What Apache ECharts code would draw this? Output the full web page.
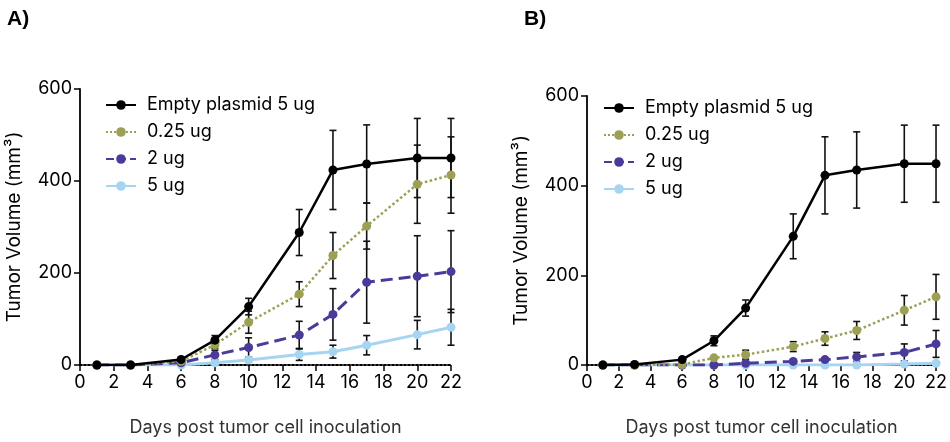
<!DOCTYPE html>
<html>
<head>
<meta charset="utf-8">
<script src="https://cdn.jsdelivr.net/npm/echarts@6/dist/echarts.min.js"></script>
<style>
html,body{margin:0;padding:0;background:#fff;}
#c{width:950px;height:442px;}
</style>
</head>
<body>
<div id="c"></div>
<script>
const days = [1, 3, 6, 8, 10, 13, 15, 17, 20, 22];
const seriesNames = ['Empty plasmid 5 ug', '0.25 ug', '2 ug', '5 ug'];
const xTicks = [0, 2, 4, 6, 8, 10, 12, 14, 16, 18, 20, 22];
const yTicks = [0, 200, 400, 600];

// Panel A
const emptyA = [0, 0, 12, 54, 127, 288, 424, 437, 450, 450];
const emptyAErr = [0, 0, 3, 10, 18, 50, 86, 85, 86, 86];
const lowA = [0, 0, 8, 44, 93, 154, 238, 302, 393, 413];
const lowAErr = [0, 0, 2, 8, 24, 27, 50, 50, 85, 83];
const midA = [0, 0, 5, 22, 38, 65, 110, 180, 193, 203];
const midAErr = [0, 0, 2, 10, 21, 30, 56, 89, 88, 89];
const highA = [0, 0, 0, 5, 11, 23, 29, 43, 66, 82];
const highAErr = [0, 0, 1, 3, 5, 13, 14, 21, 31, 39];

// Panel B
const emptyB = [0, 1, 12, 54, 127, 287, 423, 435, 449, 449];
const emptyBErr = [0, 0, 3, 11, 18, 50, 86, 85, 86, 86];
const lowB = [0, 0, 1, 16, 23, 41, 59, 77, 122, 152];
const lowBErr = [0, 0, 0, 2, 10, 11, 15, 20, 33, 50];
const midB = [0, 0, 0, 0, 4, 8, 12, 18, 28, 47];
const midBErr = [0, 0, 0, 0, 2, 3, 4, 10, 19, 30];
const highB = [0, 0, 0, 0, 0, 0, 0, 0, 2, 4];
const highBErr = [0, 0, 0, 0, 0, 0, 0, 0, 1, 2];

const FONT = 'Inter';
const colors = ['#000000', '#9d9f55', '#4a3a9a', '#a6d5f2'];
const lineTypes = ['solid', 'dotted', 'dashed', 'solid'];
const lineWidths = [2.5, 2.5, 3, 3];

const chart = echarts.init(document.getElementById('c'));

function pairs(vals) { return days.map((d, i) => [d, vals[i]]); }
function errData(vals, errs) {
  return days.map((d, i) => [d, vals[i] - errs[i], vals[i] + errs[i], errs[i]]);
}

function errSeries(idx, name, vals, errs) {
  return {
    type: 'custom', name: name + ' SEM', xAxisIndex: idx, yAxisIndex: idx,
    data: errData(vals, errs), silent: true, z: 1,
    encode: { x: 0, y: [1, 2] },
    renderItem: function (params, api) {
      if (api.value(3) < 1.5) return null;
      const lo = api.coord([api.value(0), api.value(1)]);
      const hi = api.coord([api.value(0), api.value(2)]);
      const w = 3.5;
      const st = { stroke: '#111', lineWidth: 1.6, fill: null };
      return {
        type: 'group', children: [
          { type: 'line', shape: { x1: lo[0], y1: lo[1], x2: hi[0], y2: hi[1] }, style: st },
          { type: 'line', shape: { x1: lo[0] - w, y1: lo[1], x2: lo[0] + w, y2: lo[1] }, style: st },
          { type: 'line', shape: { x1: hi[0] - w, y1: hi[1], x2: hi[0] + w, y2: hi[1] }, style: st }
        ]
      };
    }
  };
}

function lineSeries(idx, k, vals) {
  return {
    type: 'line', name: seriesNames[k], xAxisIndex: idx, yAxisIndex: idx,
    data: pairs(vals), symbol: 'circle', symbolSize: 9, z: 3 + (3 - k),
    itemStyle: { color: colors[k] },
    lineStyle: { color: colors[k], type: lineTypes[k], width: lineWidths[k] }
  };
}

const panels = [
  { vals: [emptyA, lowA, midA, highA], errs: [emptyAErr, lowAErr, midAErr, highAErr] },
  { vals: [emptyB, lowB, midB, highB], errs: [emptyBErr, lowBErr, midBErr, highBErr] }
];

const series = [];
panels.forEach((p, idx) => {
  for (let k = 0; k < 4; k++) series.push(lineSeries(idx, k, p.vals[k]));
  for (let k = 3; k >= 0; k--) series.push(errSeries(idx, seriesNames[k], p.vals[k], p.errs[k]));
});

function xAxis(idx) {
  return {
    type: 'value', gridIndex: idx, min: 0, max: 22, interval: 2,
    name: 'Days post tumor cell inoculation', nameLocation: 'middle', nameGap: 54,
    nameTextStyle: { fontFamily: FONT, fontSize: 18, color: '#333' },
    axisLine: { lineStyle: { color: '#000', width: 2, type: 'dotted' } },
    axisTick: { show: true, length: 6, lineStyle: { color: '#000', width: 1.5 } },
    axisLabel: { fontFamily: FONT, fontSize: 18, color: '#000', margin: 9,
      formatter: v => xTicks.includes(v) ? String(v) : '' },
    splitLine: { show: false }
  };
}
function yAxis(idx) {
  return {
    type: 'value', gridIndex: idx, min: 0, max: 600, interval: 200,
    name: 'Tumor Volume (mm³)', nameLocation: 'middle', nameGap: 56, nameRotate: 90,
    nameTextStyle: { fontFamily: FONT, fontSize: 19, color: '#000' },
    axisLine: { show: true, lineStyle: { color: '#000', width: 1.8 } },
    axisTick: { show: true, length: 6, lineStyle: { color: '#000', width: 1.5 } },
    axisLabel: { fontFamily: FONT, fontSize: 18, color: '#000', margin: 8,
      formatter: v => yTicks.includes(v) ? String(v) : '' },
    splitLine: { show: false }
  };
}

function legend(idx, left, top) {
  return {
    left: left, top: top, orient: 'vertical', itemGap: 9, itemWidth: 30, itemHeight: 12,
    data: seriesNames.slice(),
    textStyle: { fontFamily: FONT, fontSize: 18, color: '#000', padding: [0, 0, 0, 6] },
    selectedMode: false
  };
}

chart.setOption({
  animation: false,
  backgroundColor: '#fff',
  title: [
    { text: 'A)', left: 2, top: 4, textStyle: { fontFamily: 'Liberation Sans', fontWeight: 'bold', fontSize: 21, color: '#000' } },
    { text: 'B)', left: 519, top: 4, textStyle: { fontFamily: 'Liberation Sans', fontWeight: 'bold', fontSize: 21, color: '#000' } }
  ],
  grid: [
    { left: 80, right: 499, top: 89, bottom: 75 },
    { left: 587, right: 10, top: 96, bottom: 70 }
  ],
  legend: [legend(0, 100, 91), legend(1, 598, 94)],
  xAxis: [xAxis(0), xAxis(1)],
  yAxis: [yAxis(0), yAxis(1)],
  series: series
});
</script>
</body>
</html>
